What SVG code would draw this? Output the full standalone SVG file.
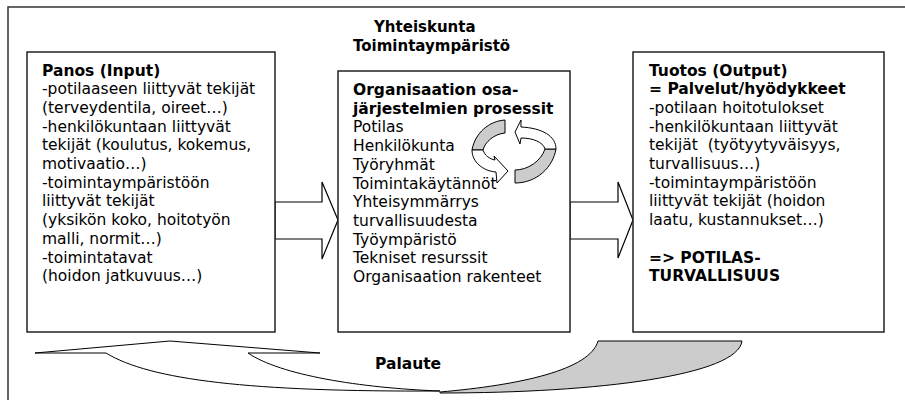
<svg xmlns="http://www.w3.org/2000/svg" width="905" height="400" viewBox="0 0 905 400">
  <style>
    text { font-family: "DejaVu Sans", Verdana, sans-serif; font-size: 15.5px; fill: #000; }
    .b { font-weight: bold; }
    .title { font-weight: bold; font-size: 15px; }
    .box { fill: #fff; stroke: #222; stroke-width: 1.5; }
    .frame { fill: none; stroke: #333; stroke-width: 1.5; }
    .blk { fill: #fff; stroke: #000; stroke-width: 1.2; stroke-linejoin: miter; }
    .shade { fill: #cccccc; stroke: #000; stroke-width: 1; }
    .plain { fill: #fff; stroke: #000; stroke-width: 1; }
    .pre { white-space: pre; }
  </style>

  <rect width="905" height="400" fill="#fff"/>

  <!-- surrounding environment frame (open to the right and bottom) -->
  <path class="frame" d="M8,400 L8,7 L905,7"/>

  <!-- environment label -->
  <g id="environment">
    <text class="title" x="374" y="32">Yhteiskunta</text>
    <text class="title" x="353" y="50.7">Toimintaympäristö</text>
  </g>

  <!-- connectors -->
  <g id="connectors">
    <!-- input to process -->
    <polygon class="blk" points="275,202 322,202 322,182 338,220 322,259 322,239 275,239"/>
    <!-- process to output -->
    <polygon class="blk" points="570,202 618,202 618,182 633,220 618,258 618,239 570,239"/>
    <!-- feedback loop: white front band with head, grey back band -->
    <path class="plain" d="M106,353 L35,353 L170,341 L320,353 L248,353 C280,375 360,388 440,391 C250,392 150,380 106,353 Z"/>
    <path class="shade" d="M440,392 C520,385 590,370 598,341 L742,341 C738,375 600,393 440,393 Z"/>
    <text class="b" x="375" y="369">Palaute</text>
  </g>

  <g id="input">
    <rect class="box" x="27" y="52" width="248" height="280"/>
    <text class="b" x="42" y="75.5">Panos (Input)</text>
    <text x="42" y="94.2">-potilaaseen liittyvät tekijät</text>
    <text x="42" y="112.9">(terveydentila, oireet…)</text>
    <text x="42" y="131.6">-henkilökuntaan liittyvät</text>
    <text x="42" y="150.3">tekijät (koulutus, kokemus,</text>
    <text x="42" y="169">motivaatio…)</text>
    <text x="42" y="187.7">-toimintaympäristöön</text>
    <text x="42" y="206.4">liittyvät tekijät</text>
    <text x="42" y="225.1">(yksikön koko, hoitotyön</text>
    <text x="42" y="243.8">malli, normit…)</text>
    <text x="42" y="262.5">-toimintatavat</text>
    <text x="42" y="281.2">(hoidon jatkuvuus…)</text>
  </g>

  <g id="process">
    <rect class="box" x="338" y="71" width="232" height="261"/>
    <text class="b" x="353" y="95">Organisaation osa-</text>
    <text class="b" x="353" y="113.7">järjestelmien prosessit</text>
    <text x="353" y="132.4">Potilas</text>
    <text x="353" y="151.1">Henkilökunta</text>
    <text x="353" y="169.8">Työryhmät</text>
    <text x="353" y="188.5">Toimintakäytännöt</text>
    <text x="353" y="207.2">Yhteisymmärrys</text>
    <text x="353" y="225.9">turvallisuudesta</text>
    <text x="353" y="244.6">Työympäristö</text>
    <text x="353" y="263.3">Tekniset resurssit</text>
    <text x="353" y="282">Organisaation rakenteet</text>
    <!-- cycle icon: two curved arrows -->
    <g id="cycle">
      <path class="shade" d="M505,120 C489,121 475,133 472,150 L483,150 C485,142 494,134 505,133 Z"/>
      <path class="plain" d="M483,150 C485,156 490,159 495,160 L494,156 L508,171 L497,183 L496,172 C483,171 472,162 472,150 Z"/>
      <path class="shade" d="M515,170 C528,170 541,161 545,149 L556,149 C553,167 537,183 515,183 Z"/>
      <path class="plain" d="M556,149 C556,136 542,128 521,127 L521,120 L515,132 L520,144 L521,138 C533,138 543,142 545,149 Z"/>
    </g>
  </g>

  <g id="output">
    <rect class="box" x="633" y="52" width="251" height="280"/>
    <text class="b" x="649" y="75.5">Tuotos (Output)</text>
    <text class="b" x="649" y="94.2">= Palvelut/hyödykkeet</text>
    <text x="649" y="112.9">-potilaan hoitotulokset</text>
    <text x="649" y="131.6">-henkilökuntaan liittyvät</text>
    <text class="pre" x="649" y="150.3">tekijät  (työtyytyväisyys,</text>
    <text x="649" y="169">turvallisuus…)</text>
    <text x="649" y="187.7">-toimintaympäristöön</text>
    <text x="649" y="206.4">liittyvät tekijät (hoidon</text>
    <text x="649" y="225.1">laatu, kustannukset…)</text>
    <text class="b" x="649" y="262.5">=&gt; POTILAS-</text>
    <text class="b" x="649" y="281.2">TURVALLISUUS</text>
  </g>
</svg>
